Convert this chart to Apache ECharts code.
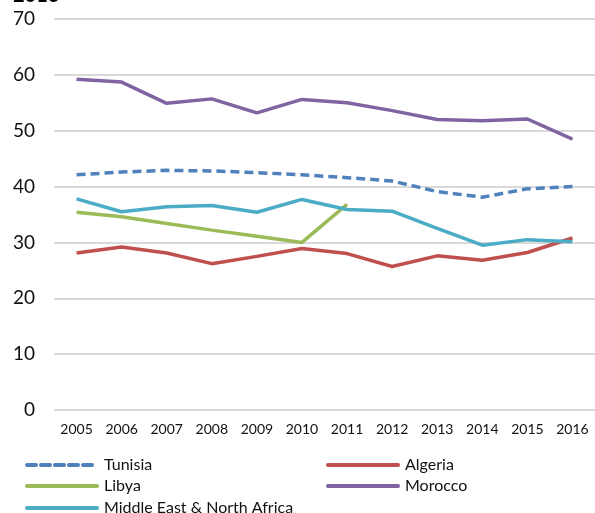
<!DOCTYPE html>
<html><head><meta charset="utf-8">
<script src="https://cdn.jsdelivr.net/npm/echarts@6/dist/echarts.min.js"></script>
<style>html,body{margin:0;padding:0;background:#fff}#c{width:595px;height:513px}</style>
</head><body><div id="c"></div>
<script>
const years = ['2005','2006','2007','2008','2009','2010','2011','2012','2013','2014','2015','2016'];
const tunisia = [42.1,42.6,42.9,42.8,42.5,42.1,41.6,41.0,39.1,38.1,39.6,40.0];
const algeria = [28.1,29.2,28.1,26.2,27.5,28.9,28.0,25.7,27.6,26.8,28.2,30.8];
const libya = [35.4,34.6,33.4,32.2,31.1,30.0,36.8,null,null,null,null,null];
const morocco = [59.2,58.7,54.9,55.7,53.2,55.6,55.0,53.6,52.0,51.8,52.1,48.5];
const mena = [37.8,35.5,36.4,36.6,35.4,37.7,35.9,35.6,32.5,29.5,30.5,30.1];
const seriesNames = ['Tunisia','Algeria','Libya','Morocco','Middle East & North Africa'];
const FONT = 'Lato';
const chart = echarts.init(document.getElementById('c'));
function s(name, data, color, dashed) {
  return {name, type:'line', data, symbol:'none', smooth:false, connectNulls:false,
    lineStyle:{color, width:3.5, type: dashed ? [9,5] : 'solid'}, itemStyle:{color}};
}
function leg(name, left, cy) {
  return {left, top:cy-7, orient:'horizontal', itemWidth:70, itemHeight:18, itemGap:6, padding:0,
    data:[name], itemStyle:{opacity:0}, lineStyle:{width:4, cap:'round'},
    textStyle:{fontFamily:FONT, fontSize:16, color:'#111', padding:[0,0,0,2]}};
}
chart.setOption({
  animation:false,
  title:{text:'2016', left:8, top:-19, textStyle:{fontFamily:FONT, fontWeight:'bold', fontSize:20, color:'#000'}},
  grid:{left:54, right:-3, top:19, bottom:103},
  xAxis:{type:'category', data:years, boundaryGap:true,
    axisLine:{show:false}, axisTick:{show:false},
    axisLabel:{fontFamily:FONT, fontSize:14, color:'#111', margin:12}},
  yAxis:{type:'value', min:0, max:70, interval:10,
    axisLabel:{fontFamily:FONT, fontSize:19, color:'#111', margin:19},
    splitLine:{lineStyle:{color:'#d9d9d9', width:2}}},
  legend:[
    leg(seriesNames[0], 25, 464),
    leg(seriesNames[2], 25, 485),
    leg(seriesNames[4], 25, 507),
    leg(seriesNames[1], 326, 464),
    leg(seriesNames[3], 326, 485)
  ],
  series:[
    s(seriesNames[0], tunisia, '#4F81BD', true),
    s(seriesNames[1], algeria, '#C0504D'),
    s(seriesNames[2], libya, '#9BBB59'),
    s(seriesNames[3], morocco, '#8064A2'),
    s(seriesNames[4], mena, '#4BACC6')
  ]
});
</script></body></html>
